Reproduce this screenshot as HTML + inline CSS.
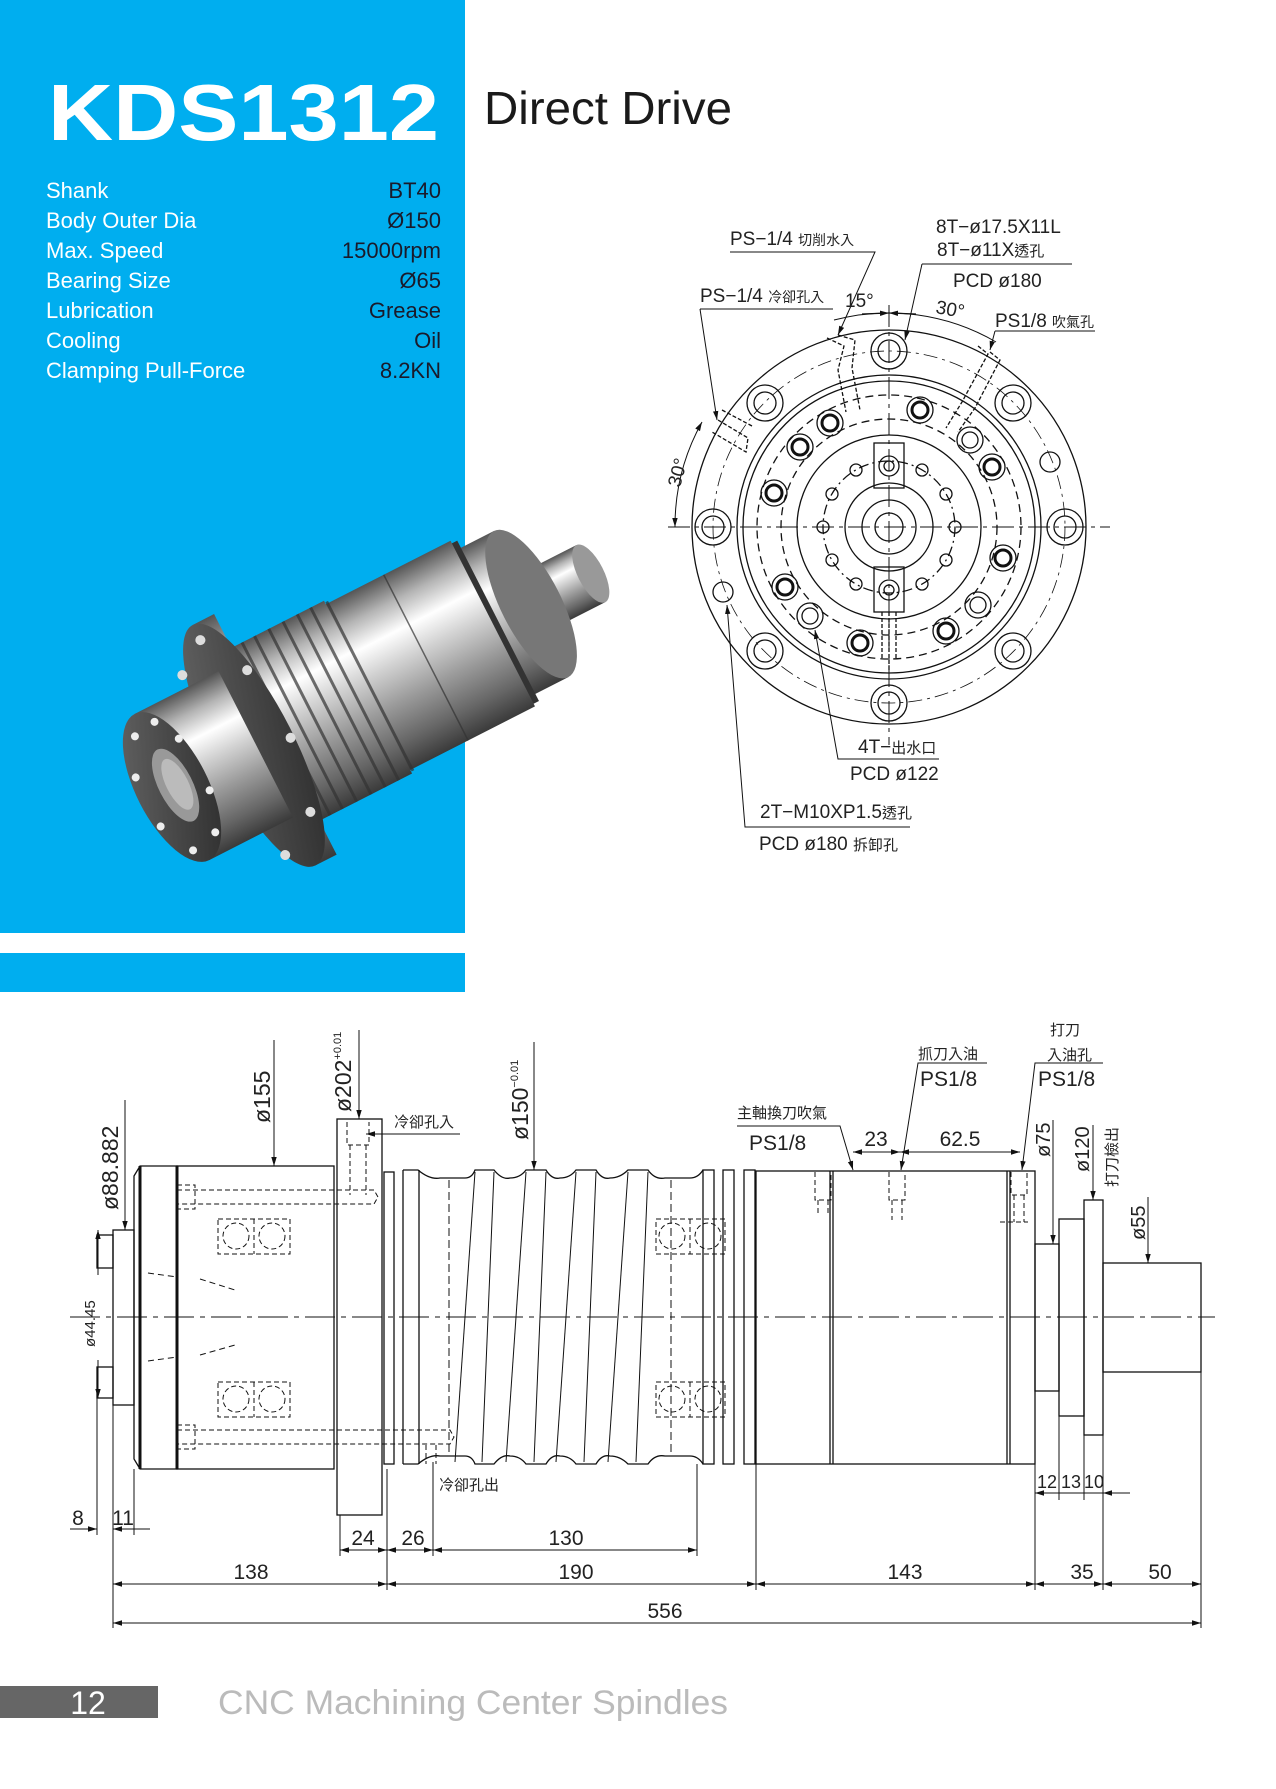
<!DOCTYPE html>
<html><head><meta charset="utf-8"><style>
html,body{margin:0;padding:0;background:#fff;}
svg{display:block;}
text{font-family:"Liberation Sans","Noto Sans CJK TC",sans-serif;}
</style></head><body>
<svg width="1276" height="1789" viewBox="0 0 1276 1789" xmlns="http://www.w3.org/2000/svg">
<defs>
<marker id="ar" viewBox="0 0 10 10" refX="10" refY="5" markerWidth="9" markerHeight="9" orient="auto-start-reverse" markerUnits="userSpaceOnUse"><path d="M0,2 L10,5 L0,8 Z" fill="#111"/></marker>
<linearGradient id="met" x1="0" y1="0" x2="0" y2="1">
<stop offset="0" stop-color="#555"/><stop offset="0.15" stop-color="#b5b5b5"/><stop offset="0.3" stop-color="#ffffff"/><stop offset="0.45" stop-color="#d2d2d2"/><stop offset="0.65" stop-color="#9a9a9a"/><stop offset="0.85" stop-color="#666"/><stop offset="1" stop-color="#3a3a3a"/></linearGradient>
<linearGradient id="face" x1="0" y1="0" x2="1" y2="1"><stop offset="0" stop-color="#666"/><stop offset="1" stop-color="#2a2a2a"/></linearGradient>
</defs>

<!-- blue panel -->
<rect x="0" y="0" width="465" height="933" fill="#00aeef"/>
<rect x="0" y="953" width="465" height="39" fill="#00aeef"/>
<text x="48" y="140" font-size="80" font-weight="bold" fill="#fff" textLength="391" lengthAdjust="spacingAndGlyphs">KDS1312</text>
<text x="484" y="124" font-size="46" fill="#1a1a1a" textLength="248" lengthAdjust="spacingAndGlyphs">Direct Drive</text>
<g font-size="22" fill="#fff">
<text x="46" y="198">Shank</text>
<text x="46" y="228">Body Outer Dia</text>
<text x="46" y="258">Max. Speed</text>
<text x="46" y="288">Bearing Size</text>
<text x="46" y="318">Lubrication</text>
<text x="46" y="348">Cooling</text>
<text x="46" y="378">Clamping Pull-Force</text>
</g>
<g font-size="22" fill="#1a1a2a" text-anchor="end">
<text x="441" y="198">BT40</text>
<text x="441" y="228">Ø150</text>
<text x="441" y="258">15000rpm</text>
<text x="441" y="288">Ø65</text>
<text x="441" y="318">Grease</text>
<text x="441" y="348">Oil</text>
<text x="441" y="378">8.2KN</text>
</g>

<!-- spindle photo -->
<g transform="translate(172,787) rotate(-27)">
  <rect x="400" y="-32" width="70" height="64" fill="url(#met)"/>
  <ellipse cx="470" cy="0" rx="13" ry="32" fill="#999"/>
  <rect x="365" y="-82" width="38" height="164" fill="url(#met)"/>
  <ellipse cx="403" cy="0" rx="30" ry="82" fill="#777"/>
  <rect x="352" y="-90" width="14" height="180" fill="#333"/>
  <rect x="215" y="-93" width="145" height="186" fill="url(#met)"/>
  <rect x="110" y="-97" width="110" height="194" fill="url(#met)"/>
  <g stroke="#333" stroke-width="3" opacity="0.7">
   <line x1="128" y1="-97" x2="128" y2="97"/><line x1="142" y1="-97" x2="142" y2="97"/><line x1="158" y1="-97" x2="158" y2="97"/><line x1="174" y1="-97" x2="174" y2="97"/><line x1="190" y1="-97" x2="190" y2="97"/><line x1="205" y1="-97" x2="205" y2="97"/><line x1="222" y1="-95" x2="222" y2="95"/><line x1="285" y1="-93" x2="285" y2="93" stroke-width="1.5"/>
  </g>
  <rect x="92" y="-135" width="24" height="270" fill="url(#met)"/>
  <ellipse cx="92" cy="0" rx="40" ry="135" fill="url(#face)"/>
  <g fill="#ddd"><circle cx="92" cy="-118" r="5"/><circle cx="120" cy="-70" r="5"/><circle cx="128" cy="10" r="5"/><circle cx="112" cy="85" r="5"/><circle cx="70" cy="112" r="5"/><circle cx="60" cy="-95" r="5"/></g>
  <rect x="0" y="-82" width="94" height="164" fill="url(#met)"/>
  <ellipse cx="0" cy="0" rx="36" ry="82" fill="url(#face)"/>
  <ellipse cx="4" cy="0" rx="17" ry="40" fill="#999"/>
  <ellipse cx="6" cy="0" rx="11" ry="28" fill="#bbb"/>
  <g fill="#eee"><circle cx="-10" cy="-62" r="4"/><circle cx="14" cy="-66" r="4"/><circle cx="28" cy="-40" r="4"/><circle cx="32" cy="20" r="4"/><circle cx="18" cy="60" r="4"/><circle cx="-10" cy="66" r="4"/><circle cx="-28" cy="30" r="4"/><circle cx="-28" cy="-25" r="4"/></g>
</g>

<!-- flange view -->
<g fill="none" stroke="#111" stroke-width="1.3">
<circle cx="889" cy="527" r="197"/>
<circle cx="889" cy="527" r="152"/><circle cx="889" cy="527" r="146"/>
<circle cx="889" cy="527" r="132" stroke-dasharray="8 5"/>
<circle cx="889" cy="527" r="108" stroke-dasharray="8 5"/>
<circle cx="889" cy="527" r="92"/>
<circle cx="889" cy="527" r="66" stroke-dasharray="10 4 2 4"/>
<circle cx="889" cy="527" r="44"/>
<circle cx="889" cy="527" r="27"/>
<circle cx="889" cy="527" r="14"/>
<circle cx="889" cy="527" r="176" stroke-dasharray="14 5 3 5" stroke-width="0.8"/>
<line x1="668" y1="527" x2="1110" y2="527" stroke-dasharray="22 5 4 5" stroke-width="1"/>
<line x1="889" y1="305" x2="889" y2="745" stroke-dasharray="22 5 4 5" stroke-width="1"/>
<g>
<circle cx="1065" cy="527" r="18"/><circle cx="1065" cy="527" r="11"/>
<circle cx="1013" cy="403" r="18"/><circle cx="1013" cy="403" r="11"/>
<circle cx="1013" cy="651" r="18"/><circle cx="1013" cy="651" r="11"/>
<circle cx="889" cy="351" r="18"/><circle cx="889" cy="351" r="11"/>
<circle cx="889" cy="703" r="18"/><circle cx="889" cy="703" r="11"/>
<circle cx="765" cy="403" r="18"/><circle cx="765" cy="403" r="11"/>
<circle cx="765" cy="651" r="18"/><circle cx="765" cy="651" r="11"/>
<circle cx="713" cy="527" r="18"/><circle cx="713" cy="527" r="11"/>
<circle cx="723" cy="592" r="10"/><circle cx="1050" cy="462" r="10"/>
</g>
<g stroke-width="1.3">
<circle cx="774" cy="493" r="13"/><circle cx="774" cy="493" r="8" stroke-width="3"/>
<circle cx="800" cy="447" r="13"/><circle cx="800" cy="447" r="8" stroke-width="3"/>
<circle cx="830" cy="423" r="13"/><circle cx="830" cy="423" r="8" stroke-width="3"/>
<circle cx="920" cy="410" r="13"/><circle cx="920" cy="410" r="8" stroke-width="3"/>
<circle cx="970" cy="440" r="13"/><circle cx="970" cy="440" r="8"/>
<circle cx="992" cy="467" r="13"/><circle cx="992" cy="467" r="8" stroke-width="3"/>
<circle cx="1003" cy="558" r="13"/><circle cx="1003" cy="558" r="8" stroke-width="3"/>
<circle cx="978" cy="605" r="13"/><circle cx="978" cy="605" r="8"/>
<circle cx="946" cy="631" r="13"/><circle cx="946" cy="631" r="8" stroke-width="3"/>
<circle cx="860" cy="643" r="13"/><circle cx="860" cy="643" r="8" stroke-width="3"/>
<circle cx="810" cy="616" r="13"/><circle cx="810" cy="616" r="8"/>
<circle cx="785" cy="587" r="13"/><circle cx="785" cy="587" r="8" stroke-width="3"/>
</g>
<g>
<circle cx="955" cy="527" r="6"/><circle cx="946" cy="560" r="6"/><circle cx="922" cy="584" r="6"/><circle cx="856" cy="584" r="6"/><circle cx="832" cy="560" r="6"/><circle cx="823" cy="527" r="6"/><circle cx="832" cy="494" r="6"/><circle cx="856" cy="470" r="6"/><circle cx="922" cy="470" r="6"/><circle cx="946" cy="494" r="6"/>
</g>
<rect x="874" y="443" width="30" height="45"/><circle cx="889" cy="466" r="10"/><circle cx="889" cy="466" r="5"/>
<rect x="874" y="567" width="30" height="45"/><circle cx="889" cy="590" r="10"/><circle cx="889" cy="590" r="5"/>
<path d="M827,338 L844,346 L838,370 L846,412 M838,335 L855,340 L852,368 L860,410" stroke-dasharray="4 2"/>
<path d="M990,352 L1000,360 L975,408 L958,432 M978,346 L988,354 L962,402 L946,428" stroke-dasharray="4 2"/>
<path d="M718,420 L748,438 L746,452 L712,432 M722,410 L752,426" stroke-dasharray="4 2"/>
<path d="M889,612 L889,670 M882,612 V660 M896,612 V660" stroke-dasharray="4 2"/>
<path d="M834,320 A214 214 0 0 1 996,342" stroke-width="1"/>
<line x1="862" y1="314" x2="889" y2="313" marker-end="url(#ar)"/>
<line x1="916" y1="314" x2="889" y2="313" marker-end="url(#ar)"/>
<path d="M675,527 A214 214 0 0 1 702,422" stroke-width="1" marker-start="url(#ar)" marker-end="url(#ar)"/>
<!-- leaders -->
<path d="M730,252 H875 L838,335" stroke-width="1" marker-end="url(#ar)"/>
<path d="M922,264 H1072 M922,264 L905,340" stroke-width="1" marker-end="url(#ar)"/>
<path d="M700,309 H833 M700,309 L717,420" stroke-width="1" marker-end="url(#ar)"/>
<path d="M995,331 H1095 M995,331 L990,350" stroke-width="1" marker-end="url(#ar)"/>
<path d="M939,759 H838 L815,630" stroke-width="1" marker-end="url(#ar)"/>
<path d="M910,827 H745 L727,605" stroke-width="1" marker-end="url(#ar)"/>
</g>
<g font-size="19" fill="#222">
<text x="730" y="245">PS−1/4 <tspan font-size="14">切削水入</tspan></text>
<text x="936" y="233">8T−ø17.5X11L</text>
<text x="937" y="256">8T−ø11X<tspan font-size="15">透孔</tspan></text>
<text x="953" y="287">PCD  ø180</text>
<text x="700" y="302">PS−1/4 <tspan font-size="14">冷卻孔入</tspan></text>
<text x="845" y="307">15°</text>
<text x="935" y="313" transform="rotate(10 935 313)">30°</text>
<text x="995" y="327">PS1/8 <tspan font-size="14">吹氣孔</tspan></text>
<text x="680" y="488" transform="rotate(-75 680 488)">30°</text>
<text x="858" y="753">4T−<tspan font-size="15">出水口</tspan></text>
<text x="850" y="780">PCD  ø122</text>
<text x="760" y="818">2T−M10XP1.5<tspan font-size="15">透孔</tspan></text>
<text x="759" y="850">PCD  ø180  <tspan font-size="15">拆卸孔</tspan></text>
</g>

<!-- side view -->
<g fill="none" stroke="#111" stroke-width="1.3">
<rect x="97" y="1235" width="16" height="33"/>
<rect x="97" y="1367" width="16" height="31"/>
<rect x="113" y="1230" width="21" height="175"/>
<path d="M134,1176 L140,1166 H177 V1469 H140 L134,1459 Z"/>
<line x1="140" y1="1166" x2="140" y2="1469" stroke-width="3"/>
<line x1="177" y1="1166" x2="177" y2="1469" stroke-width="3"/>
<rect x="177" y="1166" width="157" height="303"/>
<rect x="337" y="1119" width="45" height="396"/>
<rect x="384" y="1172" width="10" height="292"/>
<line x1="403" y1="1170" x2="403" y2="1464"/><line x1="419" y1="1170" x2="419" y2="1464"/>
<path d="M403,1170 H418 Q430,1180 440,1178 H465 Q472,1178 475,1170 H494 Q502,1180 510,1178 Q520,1178 526,1170 H546 Q552,1180 560,1178 Q570,1178 576,1170 H596 Q602,1180 610,1178 Q620,1178 628,1170 H648 Q655,1180 665,1178 H690 Q698,1178 703,1170"/>
<path d="M403,1464 H418 Q430,1454 440,1456 H465 Q472,1456 475,1464 H494 Q502,1454 510,1456 Q520,1456 526,1464 H546 Q552,1454 560,1456 Q570,1456 576,1464 H596 Q602,1454 610,1456 Q620,1456 628,1464 H648 Q655,1454 665,1456 H690 Q698,1456 703,1464"/>
<g stroke-width="1">
<line x1="475" y1="1172" x2="455" y2="1462"/><line x1="494" y1="1172" x2="482" y2="1462"/>
<line x1="526" y1="1172" x2="506" y2="1462"/><line x1="546" y1="1172" x2="534" y2="1462"/>
<line x1="576" y1="1172" x2="556" y2="1462"/><line x1="596" y1="1172" x2="584" y2="1462"/>
<line x1="628" y1="1172" x2="608" y2="1462"/><line x1="648" y1="1172" x2="636" y2="1462"/>
</g>
<line x1="449" y1="1180" x2="449" y2="1455" stroke-dasharray="8 4" stroke-width="1"/>
<line x1="671" y1="1180" x2="671" y2="1455" stroke-dasharray="8 4" stroke-width="1"/>
<rect x="703" y="1170" width="11" height="294"/><rect x="723" y="1170" width="11" height="294"/><rect x="744" y="1170" width="11" height="294"/>
<rect x="756" y="1171" width="279" height="293"/>
<line x1="830" y1="1171" x2="830" y2="1464"/><line x1="833" y1="1171" x2="833" y2="1464"/>
<line x1="1007" y1="1171" x2="1007" y2="1464"/><line x1="1010" y1="1171" x2="1010" y2="1464"/>
<rect x="1035" y="1244" width="24" height="147"/>
<rect x="1059" y="1219" width="25" height="197"/>
<rect x="1084" y="1200" width="19" height="235"/>
<rect x="1103" y="1263" width="98" height="109"/>
<g stroke-dasharray="5 3" stroke-width="1">
<rect x="218" y="1219" width="72" height="35"/><line x1="254" y1="1219" x2="254" y2="1254"/>
<circle cx="236" cy="1236" r="13"/><circle cx="272" cy="1236" r="13"/>
<rect x="218" y="1382" width="72" height="35"/><line x1="254" y1="1382" x2="254" y2="1417"/>
<circle cx="236" cy="1399" r="13"/><circle cx="272" cy="1399" r="13"/>
<rect x="656" y="1219" width="69" height="35"/><line x1="690" y1="1219" x2="690" y2="1254"/>
<circle cx="672" cy="1236" r="13"/><circle cx="708" cy="1236" r="13"/>
<rect x="656" y="1382" width="69" height="35"/><line x1="690" y1="1382" x2="690" y2="1417"/>
<circle cx="672" cy="1399" r="13"/><circle cx="708" cy="1399" r="13"/>
<path d="M177,1190 H374 L378,1197 L374,1204 H177 M177,1185 H195 V1209 H177"/>
<path d="M177,1430 H450 L454,1437 L450,1444 H177 M177,1425 H195 V1449 H177"/>
<path d="M347,1122 V1145 H369 V1122 M350,1145 V1195 M366,1145 V1195"/>
<path d="M436,1445 V1464 M426,1445 V1464"/>
<path d="M815,1172 V1200 H831 V1172 M818,1200 V1215 M828,1200 V1215"/>
<path d="M889,1172 V1200 H905 V1172 M892,1200 V1220 M902,1200 V1220"/>
<path d="M1011,1172 V1195 H1027 V1172 M1014,1195 V1222 M1024,1195 V1222 M1000,1222 H1028"/>
</g>
<line x1="70" y1="1317" x2="1215" y2="1317" stroke-dasharray="30 6 5 6" stroke-width="1"/>
<path d="M148,1273 L177,1277 M148,1361 L177,1357" stroke-dasharray="6 4" stroke-width="1"/>
<path d="M200,1279 L235,1290 M200,1355 L235,1345" stroke-dasharray="6 4" stroke-width="1"/>
</g>

<!-- dimension lines -->
<g fill="none" stroke="#111" stroke-width="1">
<path d="M340,1515 V1556 M387,1469 V1590 M433,1462 V1556 M697,1464 V1556 M113,1405 V1628 M97,1398 V1535 M134,1469 V1535 M756,1464 V1590 M1035,1391 V1590 M1059,1416 V1500 M1084,1435 V1500 M1103,1435 V1590 M1201,1372 V1628"/>
<line x1="340" y1="1550" x2="387" y2="1550" marker-start="url(#ar)" marker-end="url(#ar)"/>
<line x1="387" y1="1550" x2="433" y2="1550" marker-start="url(#ar)" marker-end="url(#ar)"/>
<line x1="433" y1="1550" x2="697" y2="1550" marker-start="url(#ar)" marker-end="url(#ar)"/>
<line x1="113" y1="1584" x2="387" y2="1584" marker-start="url(#ar)" marker-end="url(#ar)"/>
<line x1="387" y1="1584" x2="756" y2="1584" marker-start="url(#ar)" marker-end="url(#ar)"/>
<line x1="756" y1="1584" x2="1035" y2="1584" marker-start="url(#ar)" marker-end="url(#ar)"/>
<line x1="1035" y1="1584" x2="1103" y2="1584" marker-start="url(#ar)" marker-end="url(#ar)"/>
<line x1="1103" y1="1584" x2="1201" y2="1584" marker-start="url(#ar)" marker-end="url(#ar)"/>
<line x1="113" y1="1623" x2="1201" y2="1623" marker-start="url(#ar)" marker-end="url(#ar)"/>
<line x1="70" y1="1529" x2="97" y2="1529" marker-end="url(#ar)"/>
<line x1="150" y1="1529" x2="113" y2="1529" marker-end="url(#ar)"/>
<line x1="1035" y1="1493" x2="1130" y2="1493"/>
<line x1="1125" y1="1493" x2="1103" y2="1493" marker-end="url(#ar)"/>
<line x1="1050" y1="1493" x2="1035" y2="1493" marker-end="url(#ar)"/>
<line x1="125" y1="1100" x2="125" y2="1230" marker-end="url(#ar)"/>
<line x1="274" y1="1040" x2="274" y2="1166" marker-end="url(#ar)"/>
<line x1="359" y1="1030" x2="359" y2="1119" marker-end="url(#ar)"/>
<line x1="534" y1="1042" x2="534" y2="1170" marker-end="url(#ar)"/>
<line x1="1053" y1="1120" x2="1053" y2="1244" marker-end="url(#ar)"/>
<line x1="1093" y1="1125" x2="1093" y2="1200" marker-end="url(#ar)"/>
<line x1="1148" y1="1197" x2="1148" y2="1263" marker-end="url(#ar)"/>
<line x1="98" y1="1275" x2="98" y2="1230" marker-end="url(#ar)"/>
<line x1="98" y1="1360" x2="98" y2="1398" marker-end="url(#ar)"/>
<path d="M460,1134 H383"/><line x1="383" y1="1134" x2="366" y2="1134" marker-end="url(#ar)"/>
<path d="M737,1126 H840 L853,1170" marker-end="url(#ar)"/>
<path d="M987,1063 H918 L901,1170" marker-end="url(#ar)"/>
<path d="M1103,1063 H1035 L1022,1170" marker-end="url(#ar)"/>
<line x1="853" y1="1152" x2="900" y2="1152" marker-start="url(#ar)" marker-end="url(#ar)"/>
<line x1="900" y1="1152" x2="1020" y2="1152" marker-start="url(#ar)" marker-end="url(#ar)"/>
</g>
<g font-size="21" fill="#222" text-anchor="middle">
<text x="363" y="1545">24</text><text x="413" y="1545">26</text><text x="566" y="1545">130</text>
<text x="251" y="1579">138</text><text x="576" y="1579">190</text><text x="905" y="1579">143</text><text x="1082" y="1579">35</text><text x="1160" y="1579">50</text>
<text x="665" y="1618">556</text>
<text x="78" y="1525">8</text><text x="123" y="1525">11</text>
<text x="1047" y="1488" font-size="18">12</text><text x="1071" y="1488" font-size="18">13</text><text x="1094" y="1488" font-size="18">10</text>
<text x="876" y="1146">23</text><text x="960" y="1146">62.5</text>
</g>
<g font-size="23" fill="#222">
<text x="118" y="1210" transform="rotate(-90 118 1210)">ø88.882</text>
<text x="270" y="1123" transform="rotate(-90 270 1123)">ø155</text>
<text x="351" y="1112" transform="rotate(-90 351 1112)">ø202<tspan font-size="11" dy="-10">+0.01</tspan></text>
<text x="528" y="1140" transform="rotate(-90 528 1140)">ø150<tspan font-size="11" dy="-10">−0.01</tspan></text>
<text x="1050" y="1157" transform="rotate(-90 1050 1157)" font-size="20">ø75</text>
<text x="1089" y="1172" transform="rotate(-90 1089 1172)" font-size="20">ø120</text>
<text x="1117" y="1187" transform="rotate(-90 1117 1187)" font-size="15">打刀檢出</text>
<text x="1145" y="1240" transform="rotate(-90 1145 1240)" font-size="20">ø55</text>
<text x="95" y="1347" transform="rotate(-90 95 1347)" font-size="15">ø44.45</text>
</g>
<g font-size="15" fill="#222">
<text x="394" y="1127">冷卻孔入</text>
<text x="439" y="1490">冷卻孔出</text>
<text x="737" y="1118">主軸換刀吹氣</text>
<text x="918" y="1059">抓刀入油</text>
<text x="1050" y="1035">打刀</text>
<text x="1047" y="1060">入油孔</text>
</g>
<g font-size="21" fill="#222">
<text x="749" y="1150">PS1/8</text>
<text x="920" y="1086">PS1/8</text>
<text x="1038" y="1086">PS1/8</text>
</g>

<!-- footer -->
<rect x="0" y="1686" width="158" height="32" fill="#666"/>
<text x="88" y="1714" font-size="32" fill="#fff" text-anchor="middle">12</text>
<text x="218" y="1714" font-size="34" fill="#bbb" textLength="510" lengthAdjust="spacingAndGlyphs">CNC Machining Center Spindles</text>
</svg>
</body></html>
